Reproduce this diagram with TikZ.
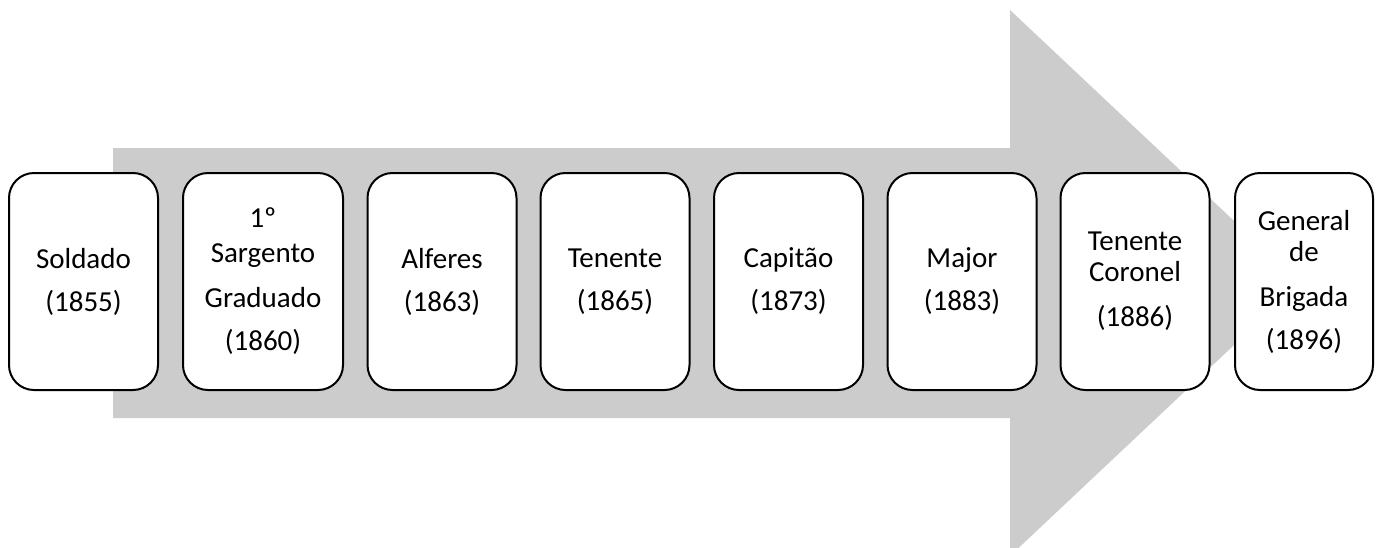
\documentclass[tikz,border=0pt]{standalone}
\usepackage{fontspec}
\setmainfont{Carlito}
\usepackage{tikz}
\definecolor{arrowgray}{RGB}{204,204,204}
\tikzset{
    rank/.style={
    draw=black,
    line width=1pt,
    fill=white,
    rounded corners=12.5pt,
    align=center,
    inner sep=0pt,
    minimum width=74.5pt,
    minimum height=108.5pt,
    font=\fontsize{14.5}{15.5}\selectfont
    }
}
\begin{document}
\begin{tikzpicture}[x=0.5pt,y=-0.5pt]
\useasboundingbox (0,0) rectangle (1376,547);
\clip (0,0) rectangle (1376,547);
\fill[arrowgray] (113,148) -- (1010,148) -- (1010,10) -- (1300,283) -- (1010,556) -- (1010,418) -- (113,418) -- cycle;
\node[rank] (soldado) at (83.5,281.5) {Soldado\\[6pt](1855)};
\node[rank,minimum width=80pt] (sargento) at (263,281.5) {1º\\[2pt]Sargento\\[7pt]Graduado\\[6pt](1860)};
\node[rank] (alferes) at (442,281.5) {Alferes\\[6pt](1863)};
\node[rank] (tenente) at (615,281.5) {Tenente\\[6pt](1865)};
\node[rank] (capitao) at (788.5,281.5) {Capitão\\[6pt](1873)};
\node[rank] (major) at (962,281.5) {Major\\[6pt](1883)};
\node[rank] (tencoronel) at (1135,281.5) {Tenente\\Coronel\\[7pt](1886)};
\node[rank,minimum width=69pt] (general) at (1304,281.5) {General\\de\\[7pt]Brigada\\[6pt](1896)};
\end{tikzpicture}
\end{document}
